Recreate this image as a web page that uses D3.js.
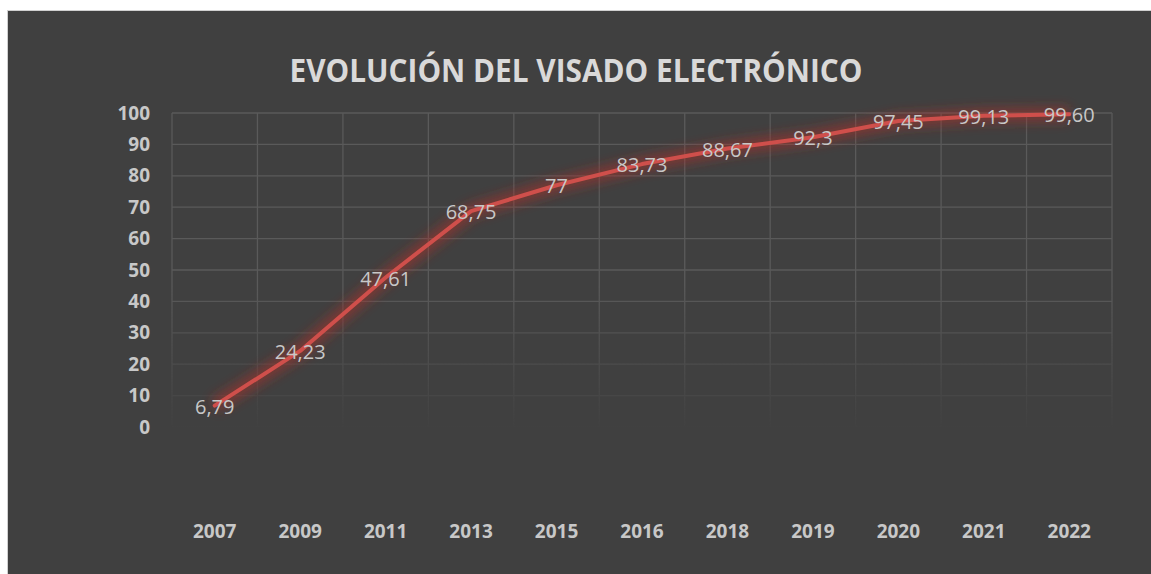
<!DOCTYPE html>
<html>
<head>
<meta charset="utf-8">
<script src="https://cdn.jsdelivr.net/npm/d3@7"></script>
<style>
  body { margin: 0; background: #fff; }
  svg { display: block; }
</style>
</head>
<body>
<div id="grafico"></div>
<script>
/////////// DATOS /////////
var anios = ["2007", "2009", "2011", "2013", "2015", "2016", "2018", "2019", "2020", "2021", "2022"];
var valores = [6.79, 24.23, 47.61, 68.75, 77, 83.73, 88.67, 92.3, 97.45, 99.13, 99.60];
var etiquetas = ["6,79", "24,23", "47,61", "68,75", "77", "83,73", "88,67", "92,3", "97,45", "99,13", "99,60"];
var ticksY = [0, 10, 20, 30, 40, 50, 60, 70, 80, 90, 100];
var titulo = "EVOLUCIÓN DEL VISADO ELECTRÓNICO";

/////////// DISTANCIA /////////
var W = 1151, H = 574;
var margin = {top: 113, right: 39, bottom: 147, left: 172},
    width = W - margin.left - margin.right,
    height = H - margin.top - margin.bottom;

var svg = d3.select("#grafico").append("svg")
    .attr("width", W)
    .attr("height", H);

// fondo del gráfico
svg.append("rect")
    .attr("x", 7.5).attr("y", 10.5)
    .attr("width", W).attr("height", H)
    .attr("fill", "#404040")
    .attr("stroke", "#d0d0d0")
    .attr("stroke-width", 1);

var defs = svg.append("defs");

// degradado para que el grid se desvanezca abajo
var grad = defs.append("linearGradient")
    .attr("id", "fade")
    .attr("gradientUnits", "userSpaceOnUse")
    .attr("x1", 0).attr("y1", 0)
    .attr("x2", 0).attr("y2", height);
grad.append("stop").attr("offset", "0.55").attr("stop-color", "#fff").attr("stop-opacity", 1);
grad.append("stop").attr("offset", "1").attr("stop-color", "#fff").attr("stop-opacity", 0.05);

var mask = defs.append("mask").attr("id", "mascara")
    .attr("maskUnits", "userSpaceOnUse")
    .attr("x", -10).attr("y", -10).attr("width", width + 20).attr("height", height + 20);
mask.append("rect")
    .attr("x", -10).attr("y", -10)
    .attr("width", width + 20).attr("height", height + 10)
    .attr("fill", "url(#fade)");

// brillo de la línea
var filtro = defs.append("filter").attr("id", "brillo")
    .attr("x", "-20%").attr("y", "-20%").attr("width", "140%").attr("height", "140%");
filtro.append("feGaussianBlur").attr("stdDeviation", 6);

var g = svg.append("g")
    .attr("transform", "translate(" + margin.left + "," + margin.top + ")");

/////////// ESCALAS /////////
var x = d3.scaleBand()
    .domain(anios)
    .range([0, width]);

// 0 a la altura de la etiqueta "0"
var y = d3.scaleLinear()
    .domain([0, 100])
    .range([314, 0]);

/////////// GRID /////////
var grid = g.append("g").attr("mask", "url(#mascara)");

grid.selectAll("line.h")
    .data(ticksY)
    .enter().append("line")
    .attr("class", "h")
    .attr("x1", 0).attr("x2", width)
    .attr("y1", function(d) { return y(d); })
    .attr("y2", function(d) { return y(d); })
    .attr("stroke", "#5a5a5a")
    .attr("stroke-width", 1.3);

var bordes = anios.map(function(d) { return x(d); }).concat([width]);
grid.selectAll("line.v")
    .data(bordes)
    .enter().append("line")
    .attr("class", "v")
    .attr("x1", function(d) { return d; }).attr("x2", function(d) { return d; })
    .attr("y1", 0).attr("y2", y(0))
    .attr("stroke", "#5a5a5a")
    .attr("stroke-width", 1.3);

/////////// EJE Y /////////
g.append("g")
    .selectAll("text")
    .data(ticksY)
    .enter().append("text")
    .attr("x", -22)
    .attr("y", function(d) { return y(d); })
    .attr("dy", "0.35em")
    .attr("text-anchor", "end")
    .attr("font-family", "'Open Sans', sans-serif")
    .attr("font-weight", "bold")
    .attr("font-size", "19px")
    .attr("fill", "#c8c8c8")
    .text(function(d) { return d; });

/////////// EJE X /////////
g.append("g")
    .selectAll("text")
    .data(anios)
    .enter().append("text")
    .attr("x", function(d) { return x(d) + x.bandwidth() / 2; })
    .attr("y", 418)
    .attr("dy", "0.35em")
    .attr("text-anchor", "middle")
    .attr("font-family", "'Open Sans', sans-serif")
    .attr("font-weight", "bold")
    .attr("font-size", "19px")
    .attr("fill", "#c8c8c8")
    .text(function(d) { return d; });

/////////// LÍNEA /////////
var linea = d3.line()
    .x(function(d, i) { return x(anios[i]) + x.bandwidth() / 2; })
    .y(function(d) { return y(d); });

g.append("path")
    .datum(valores)
    .attr("fill", "none")
    .attr("stroke", "#b0302c")
    .attr("stroke-opacity", 0.55)
    .attr("stroke-width", 14)
    .attr("stroke-linejoin", "round")
    .attr("filter", "url(#brillo)")
    .attr("d", linea);

g.append("path")
    .datum(valores)
    .attr("fill", "none")
    .attr("stroke", "#cf4f4b")
    .attr("stroke-width", 4)
    .attr("stroke-linejoin", "round")
    .attr("stroke-linecap", "round")
    .attr("d", linea);

/////////// ETIQUETAS /////////
g.append("g")
    .selectAll("text")
    .data(valores)
    .enter().append("text")
    .attr("x", function(d, i) { return x(anios[i]) + x.bandwidth() / 2; })
    .attr("y", function(d) { return y(d); })
    .attr("dy", "0.4em")
    .attr("text-anchor", "middle")
    .attr("font-family", "'Open Sans', sans-serif")
    .attr("font-size", "20px")
    .attr("fill", "#c8c8c8")
    .text(function(d, i) { return etiquetas[i]; });

/////////// TÍTULO /////////
svg.append("text")
    .attr("x", 576)
    .attr("y", 82)
    .attr("text-anchor", "middle")
    .attr("font-family", "'Open Sans', sans-serif")
    .attr("font-weight", "bold")
    .attr("font-size", "32px")
    .attr("fill", "#d9d9d9")
    .attr("textLength", 573)
    .attr("lengthAdjust", "spacingAndGlyphs")
    .text(titulo);
</script>
</body>
</html>
